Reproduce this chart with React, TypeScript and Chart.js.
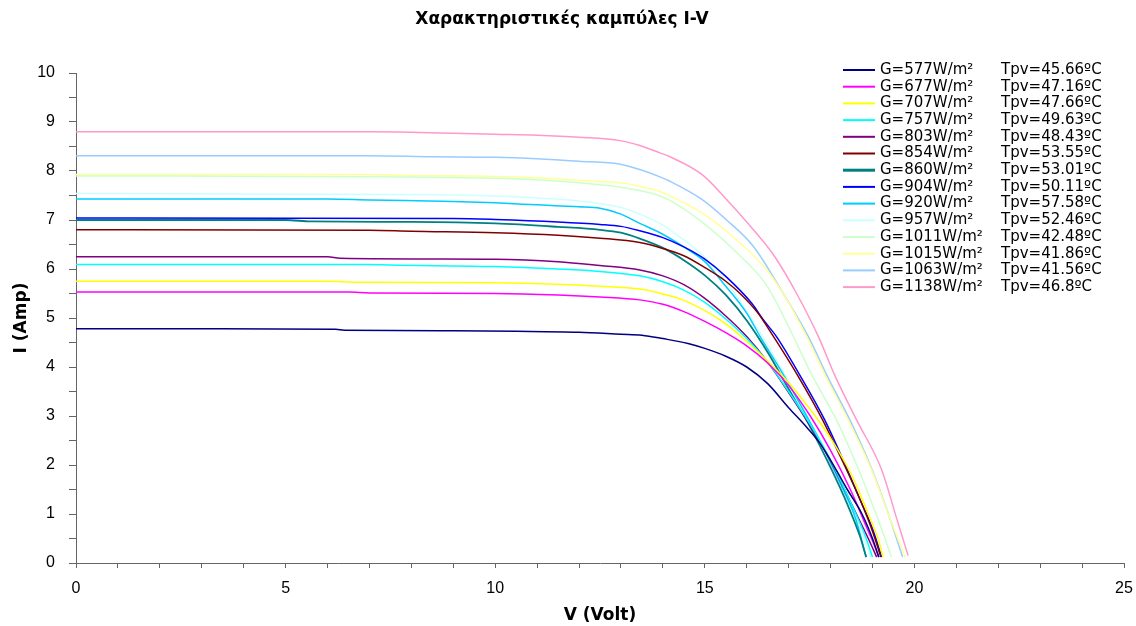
import { useEffect, useRef } from 'react';
import { Chart, registerables } from 'chart.js';

Chart.register(...registerables);

// ---- Data ----
const irradiance = ['577', '677', '707', '757', '803', '854', '860', '904', '920', '957', '1011', '1015', '1063', '1138'];
const tpv = ['45.66', '47.16', '47.66', '49.63', '48.43', '53.55', '53.01', '50.11', '57.58', '52.46', '42.48', '41.86', '41.56', '46.8'];
const colors = ['#000080', '#FF00FF', '#FFFF00', '#00FFFF', '#800080', '#800000', '#008080', '#0000FF', '#00CCFF', '#CCFFFF', '#CCFFCC', '#FFFF99', '#99CCFF', '#FF99CC'];

// [V (Volt), I (Amp)]
const c577 = [[0, 4.78], [3, 4.78], [6.2, 4.77], [6.4, 4.75], [9, 4.74], [10.5, 4.73], [12, 4.71], [13, 4.67], [13.5, 4.65], [14, 4.58], [14.6, 4.48], [15, 4.38], [15.5, 4.22], [16, 4.0], [16.5, 3.66], [17, 3.17], [17.4, 2.8], [17.75, 2.44], [18.1, 1.95], [18.4, 1.5], [18.75, 1.0], [19.0, 0.5], [19.15, 0.12]];
const c677 = [[0, 5.53], [6.5, 5.53], [7, 5.51], [10, 5.5], [11.5, 5.47], [12.5, 5.43], [13.45, 5.37], [14, 5.28], [14.5, 5.13], [15, 4.93], [15.5, 4.7], [16, 4.43], [16.5, 4.08], [17, 3.62], [17.5, 3.02], [18, 2.3], [18.5, 1.45], [18.85, 0.75], [19.05, 0.35], [19.15, 0.12]];
const c707 = [[0, 5.75], [6, 5.75], [6.7, 5.73], [10, 5.72], [11.5, 5.69], [12.5, 5.65], [13.45, 5.59], [14, 5.49], [14.5, 5.36], [15, 5.15], [15.5, 4.88], [16, 4.52], [16.5, 4.12], [17, 3.68], [17.5, 3.15], [18, 2.55], [18.5, 1.8], [18.9, 1.0], [19.15, 0.45], [19.25, 0.12]];
const c757 = [[0, 6.09], [7, 6.09], [7.5, 6.08], [10, 6.05], [11.5, 6.0], [12.5, 5.95], [13.45, 5.86], [14, 5.74], [14.5, 5.57], [15, 5.32], [15.5, 4.98], [16, 4.58], [16.5, 4.1], [17, 3.5], [17.5, 2.85], [18, 2.1], [18.5, 1.2], [18.85, 0.5], [19.0, 0.12]];
const c803 = [[0, 6.25], [6, 6.25], [6.3, 6.22], [10, 6.2], [11.5, 6.15], [12.5, 6.07], [13.45, 5.98], [14, 5.86], [14.5, 5.68], [15, 5.4], [15.5, 5.04], [16, 4.62], [16.5, 4.1], [17, 3.48], [17.5, 2.82], [18, 2.08], [18.5, 1.2], [18.9, 0.5], [19.1, 0.12]];
const c854 = [[0, 6.8], [7, 6.79], [8, 6.77], [10, 6.74], [11.5, 6.69], [12.5, 6.63], [13.45, 6.54], [14, 6.42], [14.5, 6.27], [15, 6.03], [15.5, 5.75], [15.84, 5.5], [16.25, 5.12], [16.64, 4.62], [17.2, 3.85], [17.81, 2.92], [18.3, 2.05], [18.7, 1.3], [19.0, 0.65], [19.2, 0.12]];
const c860 = [[0, 7.0], [5, 7.0], [5.6, 6.97], [8, 6.96], [10, 6.93], [11.5, 6.86], [12.5, 6.8], [13, 6.74], [13.45, 6.62], [14, 6.43], [14.5, 6.18], [15, 5.87], [15.5, 5.47], [16, 4.95], [16.5, 4.3], [17, 3.55], [17.5, 2.8], [18, 1.95], [18.4, 1.2], [18.7, 0.55], [18.85, 0.12]];
const c904 = [[0, 7.04], [9, 7.03], [10, 7.01], [11.5, 6.96], [12.5, 6.91], [13, 6.87], [13.45, 6.78], [14, 6.64], [14.5, 6.45], [15, 6.2], [15.5, 5.85], [16.12, 5.3], [16.4, 4.96], [16.71, 4.62], [17.29, 3.8], [17.86, 2.92], [18.3, 2.1], [18.7, 1.3], [19.0, 0.7], [19.22, 0.12]];
const c920 = [[0, 7.43], [6, 7.43], [7, 7.41], [9, 7.38], [10, 7.35], [11, 7.31], [12, 7.27], [12.5, 7.24], [13, 7.12], [13.45, 6.93], [13.93, 6.74], [14.5, 6.45], [15, 6.15], [15.44, 5.71], [16, 5.1], [16.32, 4.62], [16.8, 3.95], [17.3, 3.2], [17.8, 2.4], [18.3, 1.5], [18.6, 0.9], [18.85, 0.12]];
const c957 = [[0, 7.54], [8, 7.52], [10, 7.49], [11, 7.45], [12, 7.39], [12.98, 7.26], [13.45, 7.12], [13.93, 6.93], [14.25, 6.75], [15.05, 6.2], [15.6, 5.64], [16.1, 5.0], [16.6, 4.3], [17.1, 3.55], [17.6, 2.75], [18.1, 1.9], [18.5, 1.1], [18.8, 0.5], [18.95, 0.12]];
const c1011 = [[0, 7.9], [8, 7.88], [10, 7.85], [11, 7.82], [12, 7.76], [12.5, 7.72], [13, 7.67], [13.45, 7.6], [13.93, 7.49], [14.25, 7.36], [15.05, 6.88], [15.84, 6.27], [16.48, 5.66], [17.04, 4.75], [17.53, 3.88], [18.14, 2.92], [18.6, 2.05], [18.95, 1.3], [19.3, 0.5], [19.45, 0.12]];
const c1015 = [[0, 7.93], [7, 7.93], [8, 7.91], [10, 7.89], [11, 7.86], [12, 7.81], [12.98, 7.76], [13.45, 7.69], [13.93, 7.58], [14.25, 7.46], [15.05, 7.08], [15.84, 6.53], [16.48, 5.98], [16.96, 5.37], [17.43, 4.62], [17.9, 3.78], [18.42, 2.92], [18.98, 1.9], [19.46, 0.81], [19.78, 0.12]];
const c1063 = [[0, 8.31], [7, 8.31], [8.5, 8.29], [10, 8.28], [11, 8.25], [12, 8.2], [12.98, 8.14], [13.45, 8.03], [13.93, 7.88], [14.17, 7.79], [14.93, 7.42], [15.52, 7.0], [16.16, 6.46], [16.87, 5.5], [17.47, 4.62], [17.93, 3.8], [18.46, 2.92], [19.0, 1.88], [19.4, 0.95], [19.72, 0.12]];
const c1138 = [[0, 8.8], [7, 8.8], [8, 8.79], [9, 8.77], [10, 8.75], [11, 8.73], [12, 8.69], [12.98, 8.62], [13.45, 8.52], [13.93, 8.37], [14.17, 8.29], [14.93, 7.93], [15.52, 7.42], [16.16, 6.8], [16.67, 6.25], [17.19, 5.5], [17.71, 4.62], [18.09, 3.85], [18.62, 2.92], [19.22, 1.9], [19.58, 0.9], [19.85, 0.15]];

const curves = [c577, c677, c707, c757, c803, c854, c860, c904, c920, c957, c1011, c1015, c1063, c1138];

const chartTitle = 'Χαρακτηριστικές καμπύλες I-V';
const xTitle = 'V (Volt)';
const yTitle = 'I (Amp)';
const xRange = [0, 25];
const yRange = [0, 10];

const FONT = "'DejaVu Sans', 'Liberation Sans', Arial, sans-serif";
const TICKFONT = "'Liberation Sans', Arial, sans-serif";
const AXIS = '#666666';

const insideLegend = {
  id: 'insideLegend',
  afterDraw(chart: any) {
    const { ctx, chartArea } = chart;
    ctx.save();
    ctx.font = `15px ${FONT}`;
    ctx.textBaseline = 'middle';
    ctx.textAlign = 'left';
    chart.data.datasets.forEach((ds: any, i: number) => {
      const y = chartArea.top - 3 + i * 16.7;
      const x0 = chartArea.right - 281;
      ctx.strokeStyle = ds.borderColor;
      ctx.lineWidth = i === 6 ? 3 : 2;
      ctx.beginPath();
      ctx.moveTo(x0, y);
      ctx.lineTo(x0 + 32, y);
      ctx.stroke();
      ctx.fillStyle = '#000';
      ctx.fillText(`G=${irradiance[i]}W/m²`, x0 + 37, y);
      ctx.fillText(`Tpv=${tpv[i]}ºC`, x0 + 158, y);
    });
    ctx.restore();
  },
};

export default function App() {
  const ref = useRef<HTMLCanvasElement | null>(null);

  useEffect(() => {
    if (!ref.current) return;
    const chart = new Chart(ref.current, {
      type: 'line',
      data: {
        datasets: curves.map((c, i) => ({
          label: `G=${irradiance[i]}W/m²   Tpv=${tpv[i]}ºC`,
          data: c.map(([x, y]) => ({ x, y })),
          borderColor: colors[i],
          backgroundColor: colors[i],
          borderWidth: i === 6 ? 1.8 : 1.5,
          pointRadius: 0,
          cubicInterpolationMode: 'monotone' as const,
          fill: false,
        })),
      },
      options: {
        responsive: false,
        animation: false,
        layout: { padding: { left: 0, right: 12, top: 0, bottom: 0 } },
        plugins: {
          legend: { display: false },
          tooltip: { enabled: false },
          title: {
            display: true,
            text: chartTitle,
            color: '#000',
            font: { family: FONT, size: 17, weight: 'bold' },
            padding: { top: 9, bottom: 43.6 },
          },
        },
        scales: {
          x: {
            type: 'linear',
            min: xRange[0],
            max: xRange[1],
            afterFit: (s: any) => { s.height = 63; },
            ticks: {
              stepSize: 1,
              autoSkip: false,
              maxRotation: 0,
              padding: 2,
              color: '#000',
              font: { family: TICKFONT, size: 16, lineHeight: 2.375 },
              callback: (v: any) => (Number(v) % 5 === 0 ? String(v) : ''),
            },
            grid: { drawOnChartArea: false, drawTicks: true, tickLength: 5, color: AXIS },
            border: { display: true, color: AXIS, width: 1 },
            title: {
              display: true,
              text: xTitle,
              color: '#000',
              font: { family: FONT, size: 17, weight: 'bold' },
              padding: { top: 0, bottom: 0 },
            },
          },
          y: {
            type: 'linear',
            min: yRange[0],
            max: yRange[1],
            afterFit: (s: any) => { s.width = 76; },
            ticks: {
              stepSize: 0.5,
              autoSkip: false,
              padding: 14,
              color: '#000',
              font: { family: TICKFONT, size: 16 },
              callback: (v: any) => (Number.isInteger(Number(v)) ? String(v) : ''),
            },
            grid: { drawOnChartArea: false, drawTicks: true, tickLength: 7, color: AXIS },
            border: { display: true, color: AXIS, width: 1 },
            title: {
              display: true,
              text: yTitle,
              color: '#000',
              font: { family: FONT, size: 17, weight: 'bold' },
              padding: { top: 11, bottom: 0 },
            },
          },
        },
      },
      plugins: [insideLegend],
    });
    return () => chart.destroy();
  }, []);

  return (
    <div style={{ position: 'absolute', left: 0, top: 0, width: 1136, height: 626, background: '#fff' }}>
      <canvas ref={ref} width={1136} height={626} style={{ display: 'block' }} />
    </div>
  );
}
